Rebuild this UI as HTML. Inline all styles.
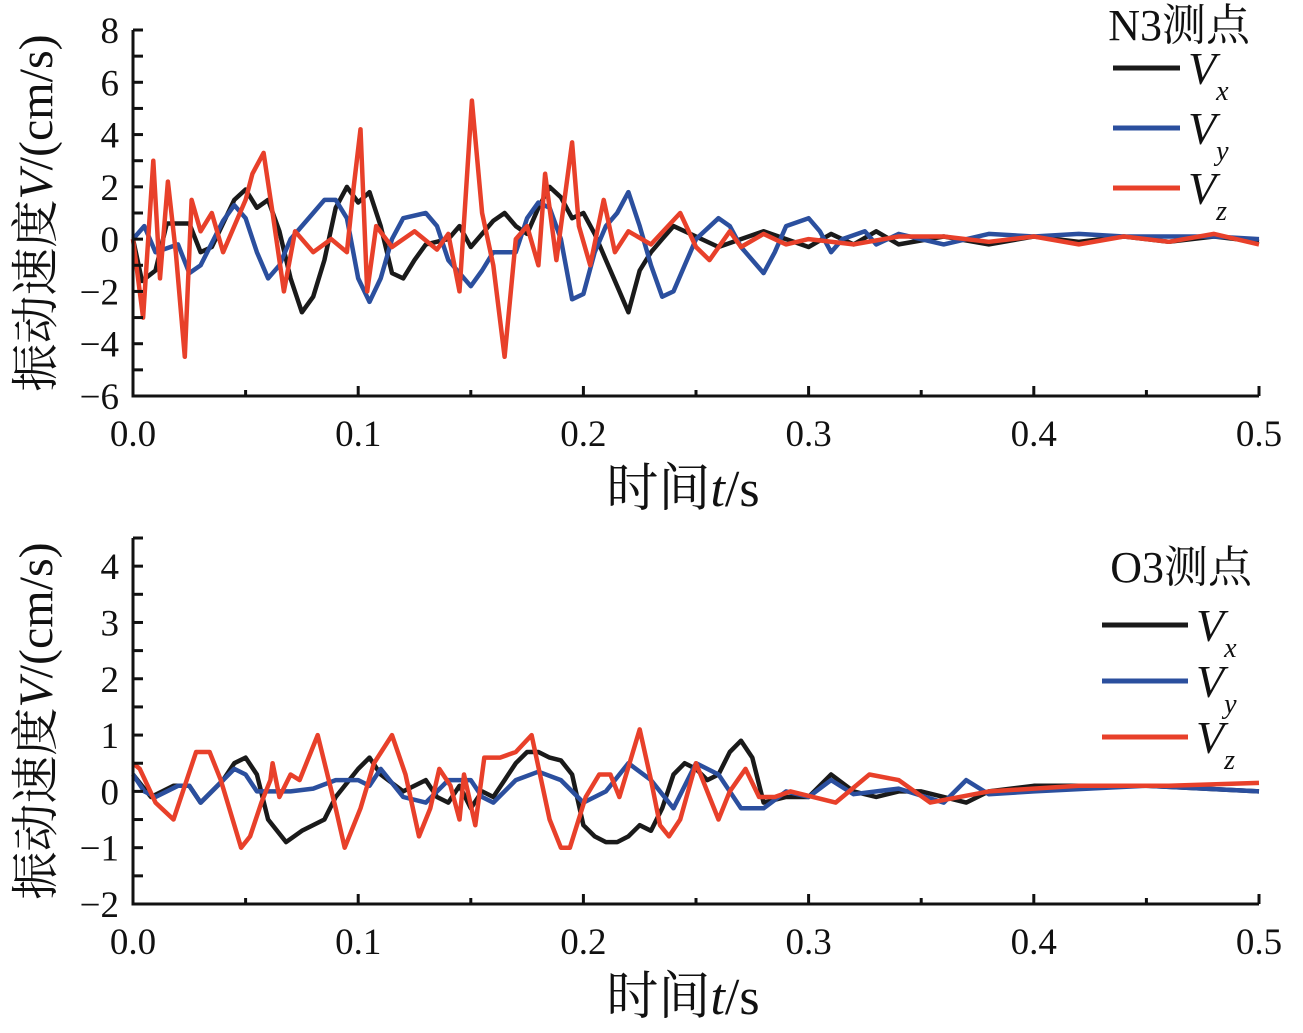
<!DOCTYPE html>
<html><head><meta charset="utf-8"><style>
body{margin:0;background:#fff;}
svg{display:block;font-family:"Liberation Serif","Noto Serif CJK SC",serif;}
</style></head><body>
<svg id="svg" width="1303" height="1033" viewBox="0 0 1303 1033"></svg>
<script>
// ---- top chart (N3) data ----
const topXTicks=["0.0","0.1","0.2","0.3","0.4","0.5"];
const topYTicks=[-6,-4,-2,0,2,4,6,8];
const n3VxT=[0,.004,.01,.015,.025,.03,.035,.045,.05,.055,.06,.065,.07,.075,.08,.085,.09,.095,.1,.105,.11,.115,.12,.125,.13,.14,.145,.15,.16,.165,.17,.175,.18,.185,.19,.195,.2,.205,.21,.215,.22,.225,.23,.235,.24,.25,.26,.27,.28,.29,.3,.31,.32,.33,.34,.36,.38,.4,.42,.44,.46,.48,.5];
const n3VxV=[0,-1.6,-1.2,0.6,0.6,-0.5,-0.3,1.5,1.9,1.2,1.5,0.3,-1.5,-2.8,-2.2,-0.8,1.2,2,1.4,1.8,0.5,-1.3,-1.5,-0.8,-0.2,0,0.5,-0.3,0.7,1,0.5,0.2,1.2,2,1.6,0.8,1,0.2,-0.8,-1.8,-2.8,-1.2,-0.5,0,0.5,0.1,-0.3,0,0.3,0,-0.3,0.2,-0.2,0.3,-0.2,0.1,-0.2,0.1,-0.1,0.1,-0.1,0.1,-0.1];
const n3VyT=[0,.005,.01,.02,.025,.03,.04,.045,.05,.055,.06,.065,.07,.08,.085,.09,.095,.1,.105,.11,.115,.12,.13,.135,.14,.15,.155,.16,.17,.175,.18,.185,.19,.195,.2,.205,.21,.215,.22,.225,.23,.235,.24,.245,.25,.26,.265,.27,.28,.285,.29,.3,.305,.31,.315,.325,.33,.34,.36,.38,.4,.42,.44,.46,.48,.5];
const n3VyV=[0,0.5,-0.5,-0.2,-1.3,-1,0.7,1.3,0.8,-0.5,-1.5,-1,0,1,1.5,1.5,0.8,-1.5,-2.4,-1.5,0,0.8,1,0.5,-0.8,-1.8,-1.2,-0.5,-0.5,0.8,1.4,1.2,0,-2.3,-2.1,-0.5,0.5,1,1.8,0.5,-1,-2.2,-2,-1,0,0.8,0.5,-0.3,-1.3,-0.5,0.5,0.8,0.3,-0.5,0,0.3,-0.2,0.2,-0.2,0.2,0.1,0.2,0.1,0.1,0.1,0];
const n3VzT=[0,.0045,.009,.012,.0155,.019,.023,.026,.03,.035,.04,.045,.05,.053,.058,.062,.067,.072,.08,.088,.095,.098,.101,.104,.108,.115,.125,.135,.14,.145,.1505,.155,.16,.165,.17,.175,.18,.183,.188,.195,.198,.203,.209,.214,.22,.23,.243,.25,.256,.265,.27,.28,.29,.3,.32,.34,.36,.38,.4,.42,.44,.46,.48,.5];
const n3VzV=[0,-3,3,-1.5,2.2,-0.5,-4.5,1.5,0.3,1,-0.5,0.5,1.5,2.5,3.3,1,-2,0.3,-0.5,0,-0.5,2,4.2,-2,0.5,-0.3,0.3,-0.4,0.2,-2,5.3,1,-1,-4.5,0,0.5,-1,2.5,-0.8,3.7,0.5,-1,1.5,-0.5,0.3,-0.2,1,-0.3,-0.8,0.3,-0.3,0.2,-0.2,0,-0.2,0.1,0.1,-0.1,0.1,-0.2,0.1,-0.1,0.2,-0.2];
// ---- bottom chart (O3) data ----
const botXTicks=["0.0","0.1","0.2","0.3","0.4","0.5"];
const botYTicks=[-2,-1,0,1,2,3,4];
const o3VxT=[0,.008,.018,.025,.03,.04,.045,.05,.055,.06,.068,.075,.085,.09,.1,.105,.11,.12,.13,.135,.14,.145,.15,.155,.16,.165,.17,.175,.18,.185,.19,.195,.2,.205,.21,.215,.22,.225,.23,.235,.24,.245,.25,.255,.26,.265,.27,.275,.28,.29,.3,.31,.32,.33,.34,.35,.37,.38,.4,.45,.5];
const o3VxV=[0.3,-0.1,0.1,0.1,-0.2,0.2,0.5,0.6,0.3,-0.5,-0.9,-0.7,-0.5,-0.1,0.4,0.6,0.3,0,0.2,-0.1,-0.2,0.1,-0.3,0,-0.1,0.2,0.5,0.7,0.7,0.6,0.55,0.3,-0.6,-0.8,-0.9,-0.9,-0.8,-0.6,-0.7,-0.3,0.3,0.5,0.4,0.2,0.3,0.7,0.9,0.6,-0.2,-0.1,-0.1,0.3,0,-0.1,0,0,-0.2,0,0.1,0.1,0];
const o3VyT=[0,.005,.01,.02,.025,.03,.04,.045,.05,.055,.06,.07,.08,.09,.1,.105,.11,.12,.13,.14,.15,.155,.16,.17,.18,.19,.2,.21,.22,.23,.24,.25,.26,.27,.28,.29,.3,.31,.32,.34,.36,.37,.38,.4,.45,.5];
const o3VyV=[0.3,0,-0.1,0.1,0.1,-0.2,0.2,0.4,0.3,0,0,0,0.05,0.2,0.2,0.1,0.4,-0.1,-0.2,0.2,0.2,-0.1,-0.2,0.2,0.35,0.2,-0.2,0,0.5,0.2,-0.3,0.5,0.3,-0.3,-0.3,0,-0.1,0.2,-0.05,0.05,-0.2,0.2,-0.05,0,0.1,0];
const o3VzT=[0,.003,.01,.018,.028,.034,.039,.048,.052,.057,.061,.062,.065,.07,.074,.082,.09,.094,.101,.107,.115,.121,.127,.132,.136,.141,.145,.147,.152,.156,.163,.17,.177,.185,.19,.194,.201,.207,.212,.216,.225,.23,.234,.238,.243,.25,.26,.265,.272,.278,.285,.292,.312,.327,.34,.354,.38,.42,.46,.5];
const o3VzV=[0.5,0.4,-0.2,-0.5,0.7,0.7,0.2,-1,-0.8,-0.2,0.2,0.5,-0.1,0.3,0.2,1,-0.3,-1,-0.3,0.5,1,0.3,-0.8,-0.3,0.4,0.1,-0.5,0.3,-0.6,0.6,0.6,0.7,1,-0.5,-1,-1,-0.1,0.3,0.3,-0.1,1.1,0.2,-0.6,-0.8,-0.5,0.5,-0.5,0,0.4,-0.1,-0.1,0,-0.2,0.3,0.2,-0.2,0,0.1,0.1,0.15];

const svg=document.getElementById('svg');
const NS='http://www.w3.org/2000/svg';
function mk(tag,attrs,parent){const e=document.createElementNS(NS,tag);for(const k in attrs)e.setAttribute(k,attrs[k]);(parent||svg).appendChild(e);return e;}
const X0=133,X1=1259;
function xs(t){return X0+(t/0.5)*(X1-X0);}
const colors={x:'#1a1a1a',y:'#2b4f9e',z:'#e8402a'};

function chart(name,yTop,yBot,vMin,vMax,yTicks,yMinor,xTicks,series,legendTitle,lg){
  const g=mk('g',{});
  
  
  const ys=v=>yBot-(v-vMin)/(vMax-vMin)*(yBot-yTop);
  for(const s of series){
    let d='';
    s.t.forEach((t,i)=>{d+=(i?'L':'M')+xs(t).toFixed(1)+','+ys(s.v[i]).toFixed(1);});
    const p=mk('path',{d:d,fill:'none',stroke:colors[s.k],'stroke-width':4.5,'stroke-linejoin':'round'},g);
    
    
  }
  const ax=mk('path',{d:`M${X0},${yTop}V${yBot}H${X1}`,fill:'none',stroke:'#111','stroke-width':3},g);
  
  
  for(let v=vMin;v<=vMax+1e-9;v+=yMinor){
    mk('line',{x1:X0,x2:X0+10,y1:ys(v),y2:ys(v),stroke:'#111','stroke-width':3},g);
  }
  for(const v of yTicks){
    const t=mk('text',{x:X0-14,y:ys(v)+13,'text-anchor':'end','font-size':37,fill:'#111'},g);
    t.textContent=(v<0?'\u2212'+(-v):v);
    
    
  }
  xTicks.forEach((lab,i)=>{
    const x=xs(i*0.1);
    mk('line',{x1:x,x2:x,y1:yBot,y2:yBot-10,stroke:'#111','stroke-width':3},g);
    if(i<xTicks.length-1){const xm=xs(i*0.1+0.05);mk('line',{x1:xm,x2:xm,y1:yBot,y2:yBot-6,stroke:'#111','stroke-width':3},g);}
    const t=mk('text',{x:x,y:yBot+50,'text-anchor':'middle','font-size':37,fill:'#111'},g);
    t.textContent=lab;
    
    
  });
  const xt=mk('text',{x:683,y:yBot+110,'text-anchor':'middle','font-size':52,fill:'#111'},g);
  xt.innerHTML='时间<tspan font-style="italic">t</tspan>/s';
  
  
  const cy=(yTop+yBot)/2;
  const yt=mk('text',{x:0,y:0,transform:`translate(52,${cy}) rotate(-90)`,'text-anchor':'middle','font-size':48,fill:'#111'},g);
  yt.innerHTML='振动速度<tspan font-style="italic">V</tspan>/(cm/s)';
  
  
  const lt=mk('text',{x:lg.tx,y:lg.ty,'text-anchor':'end','font-size':44,fill:'#111'},g);
  lt.textContent=legendTitle;
  
  
  ['x','y','z'].forEach((k,i)=>{
    const y=lg.y0+i*lg.dy;
    const l=mk('line',{x1:lg.x1,x2:lg.x2,y1:y,y2:y,stroke:colors[k],'stroke-width':5},g);
    
    
    const t=mk('text',{x:lg.x2+8,y:y+16,'font-size':46,'font-style':'italic',fill:'#111'},g);
    t.innerHTML='V<tspan font-size="28" dy="16">'+k+'</tspan>';
    
    
  });
}
chart('n3-chart',30,396,-6,8,topYTicks,1,topXTicks,
 [{k:'x',t:n3VxT,v:n3VxV},{k:'y',t:n3VyT,v:n3VyV},{k:'z',t:n3VzT,v:n3VzV}],
 'N3测点',{tx:1250,ty:40,x1:1113,x2:1180,y0:68,dy:60});
chart('o3-chart',538,904,-2,4.5,botYTicks,0.5,botXTicks,
 [{k:'x',t:o3VxT,v:o3VxV},{k:'y',t:o3VyT,v:o3VyV},{k:'z',t:o3VzT,v:o3VzV}],
 'O3测点',{tx:1252,ty:582,x1:1102,x2:1188,y0:625,dy:56});
</script>
</body></html>
